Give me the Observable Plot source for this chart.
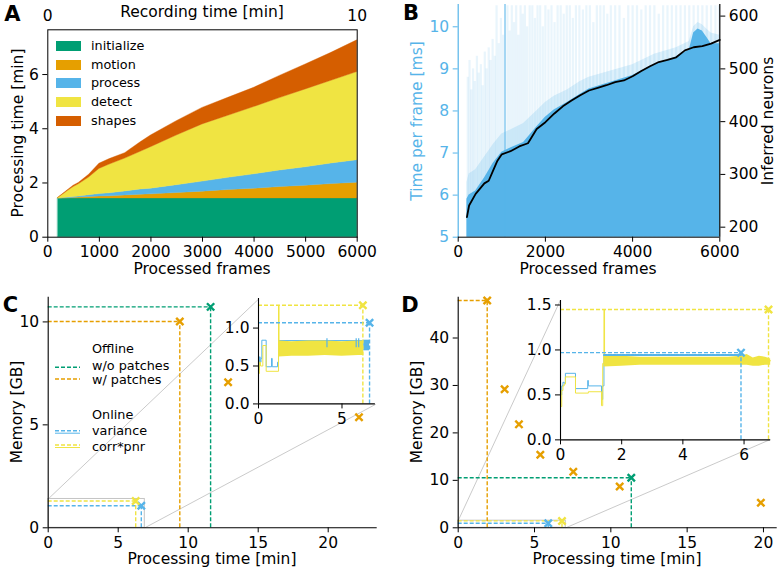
<!DOCTYPE html>
<html><head><meta charset="utf-8">
<script src="https://cdn.jsdelivr.net/npm/d3@7"></script>
<script src="https://cdn.jsdelivr.net/npm/@observablehq/plot@0.6"></script>
<style>
body{margin:0;background:#fff;}
#root{position:relative;width:780px;height:572px;overflow:hidden;font-family:"DejaVu Sans",sans-serif;background:#fff;}
#root svg{overflow:visible;}
</style></head><body><div id="root"></div>
<script>
// ---------------- DATA ----------------
// Panel A: stacked processing time per stage (minutes) vs processed frames
const framesA  = [200,300,400,500,600,800,1000,1200,1500,1800,2000,2500,3000,3500,4000,4500,5000,5500,6000];
const initA    = [1.43,1.43,1.43,1.43,1.43,1.43,1.43,1.43,1.43,1.43,1.43,1.43,1.43,1.43,1.43,1.43,1.43,1.43,1.43];
const motionA  = [0,0.005,0.01,0.02,0.03,0.05,0.07,0.08,0.11,0.14,0.15,0.20,0.25,0.31,0.36,0.42,0.47,0.53,0.58];
const processA = [0,0.01,0.02,0.03,0.04,0.07,0.09,0.11,0.15,0.19,0.21,0.29,0.37,0.45,0.53,0.61,0.68,0.76,0.83];
const detectA  = [0.02,0.135,0.26,0.37,0.45,0.65,0.93,1.06,1.21,1.39,1.53,1.83,2.11,2.29,2.48,2.67,2.87,3.05,3.25];
const shapesA  = [0,0.02,0.03,0.05,0.05,0.10,0.19,0.20,0.20,0.35,0.43,0.53,0.61,0.66,0.71,0.82,0.92,1.03,1.17];
const stagesA  = ["initialize","motion","process","detect","shapes"];
const xTicksA  = [0,1000,2000,3000,4000,5000,6000];
const yTicksA  = [0,2,4,6];
const recTicksA = [0,10];          // recording time [min] on top axis
const framesPerMinA = 600;

// Panel B: time per frame (ms) and inferred neurons
const timeFramesB = [200,250,400,500,600,800,1000,1200,1500,1800,2000,2200,2500,2800,3000,3500,4000,4500,5000,5300,5400,5500,5600,5700,5800,6000];
const timeTopB    = [5.9,6.0,6.1,6.25,6.4,6.75,7.02,7.12,7.25,7.62,7.85,8.02,8.2,8.4,8.52,8.68,8.84,9.1,9.28,9.45,9.85,9.95,9.9,9.75,9.6,9.6];
const hazeTopB    = [6.3,6.5,6.6,6.75,6.9,7.2,7.45,7.55,7.7,8.0,8.2,8.35,8.5,8.7,8.8,8.95,9.1,9.35,9.5,9.65,10.0,10.1,10.05,9.95,9.85,9.8];
const spikeFramesB = [220,260,300,340,380,430,470,520,560,610,650,700,740,790,840,880,930,980,1030,1130,1180,1230,1280,1330,1380,1430,1480,1530,1580,1640,1700,1760,1820,1880,1940,2000,2070,2140,2210,2280,2350,2420,2490,2560,2630,2700,2780,2860,2940,3020,3100,3180,3260,3340,3420,3500,3600,3700,3800,3900,4000,4100,4200,4300,4400,4500,4600,4700,4800,4900,5000,5100,5200,5300,5400,5500,5600,5700,5800,5900,5980];
const spikeTopsB = [8.8,9.2,8.5,9.0,8.7,9.3,8.9,9.1,8.6,9.4, 9.0,9.5,9.2,9.7,9.3,10.5,9.6,10.2,9.8,10.5, 9.9,10.5,10.1,10.5,9.8,10.5,10.3,10.5,10.0,10.5, 10.5,10.2,10.5,10.5,10.0,10.5,10.4,10.5,10.1,10.5, 10.5,10.3,10.5,10.5,10.2,10.5,10.5,10.4,10.5,10.5, 10.1,10.5,10.5,10.5,10.3,10.5,10.5,10.5,10.2,10.5, 10.5,10.5,10.4,10.5,10.5,10.5,10.3,10.5,10.5,10.5, 10.5,10.5,10.5,10.5,10.5,10.5,10.5,10.5,10.5,10.5,10.5];
const brightSpikeFrameB = [1085];
const brightSpikeTopB = [10.53];
const neuronFramesB = [200,250,400,500,600,700,800,900,1000,1200,1400,1600,1800,2000,2200,2400,2600,2800,3000,3200,3400,3600,3800,4000,4200,4400,4600,4800,5000,5200,5400,5600,5800,6000];
const neuronsB      = [219,241,263,273,283,288,307,326,338,344,353,359,386,399,415,429,440,450,459,464,469,475,478,486,496,505,513,517,522,535,541,543,548,555];
const xTicksB = [0,2000,4000,6000];
const yTicksB = [5,6,7,8,9,10];
const nTicksB = [200,300,400,500,600];

// Panel C: memory vs processing time
const offTimeC = [11.6, 9.4],  offMemC = [10.73, 10.02], offColC = ["green","orange"];
const extraTimeC = [12.85, 22.2], extraMemC = [7.07, 5.37];
const onTimeC = [6.65, 6.25], onMemC = [1.07, 1.3], onColC = ["blue","yellow"];
const boxC = [6.9, 1.4];                       // zoomed region [time, memory]
const insetC = {x0:15.05, x1:23.4, y0:6.0, y1:11.12}; // inset extent in main data units
const blueTC = [0,0.05,0.1,0.15,0.2,0.46,0.78,0.82,1.14,1.2,6.65];
const blueMC = [0.45,0.62,0.55,0.6,0.84,0.49,0.6,0.49,0.55,0.835,0.835];
const yelTC  = [0,0.05,0.12,0.26,0.46,1.2,1.23,6.3];
const yelMC  = [0.4,0.55,0.5,0.77,0.43,1.3,0.75,0.75];
const bandTC = [1.22,2,3,4,5,6,6.3];
const bandLoC = [0.62,0.63,0.63,0.64,0.63,0.64,0.64];
const bandHiC = [0.83,0.82,0.83,0.83,0.82,0.83,0.83];
const blueSpikeTC = [4.1,5.85,6.0];
const blueBlockC = [6.3, 6.65, 0.7, 0.84];

// Panel D
const offTimeD = [11.34, 1.9], offMemD = [10.55, 47.9], offColD = ["green","orange"];
const extraTimeD = [3.04,3.98,5.38,7.54,10.58,19.83], extraMemD = [29.2,21.8,15.4,11.8,8.7,5.27];
const onTimeD = [5.9, 6.8], onMemD = [0.97, 1.45], onColD = ["blue","yellow"];
const boxD = [7.05, 1.5];
const insetD = {x0:6.70, x1:20.47, y0:18.63, y1:48.0};
const blueTD = [0,0.04,0.08,0.12,0.16,0.49,0.89,0.91,1.34,1.38,1.42,5.9];
const blueMD = [0.5,0.6,0.64,0.63,0.74,0.57,0.66,0.6,0.45,0.6,0.945,0.945];
const yelTD  = [0,0.04,0.08,0.12,0.16,0.49,0.91,1.34,1.38,1.42,1.44,6.87];
const yelMD  = [0.37,0.55,0.6,0.62,0.70,0.52,0.535,0.38,0.85,1.45,0.88,0.88];
const bandTD = [1.42,2.0,2.6,3.5,4.5,5.5,5.9,6.1,6.3,6.5,6.7,6.87];
const bandLoD = [0.81,0.82,0.83,0.83,0.83,0.83,0.83,0.83,0.82,0.82,0.83,0.83];
const bandHiD = [0.93,0.93,0.92,0.92,0.92,0.92,0.93,0.95,0.91,0.93,0.92,0.90];

// ---------------- STYLE / HELPERS ----------------
const FONT = "'DejaVu Sans', sans-serif";
const COL = {green:"#009E73", orange:"#E69F00", blue:"#56B4E9", yellow:"#F0E442", red:"#D55E00"};
const colorsA = [COL.green, COL.orange, COL.blue, COL.yellow, COL.red];
const TICK = 15.5;
const root = document.getElementById("root");
const baseStyle = {fontFamily: FONT, fontSize: TICK + "px", background: "transparent", overflow: "visible", maxWidth: "none"};

function put(el, left, top) {
  el.style.position = "absolute"; el.style.left = left + "px"; el.style.top = top + "px";
  root.appendChild(el); return el;
}
function label(str, x, y, {size = TICK, rotate = false, color = "#000", weight = "normal", anchor = "middle"} = {}) {
  const d = document.createElement("div");
  d.textContent = str;
  Object.assign(d.style, {position: "absolute", left: x + "px", top: y + "px", fontSize: size + "px", lineHeight: "1",
    color, fontWeight: weight, whiteSpace: "nowrap", fontFamily: FONT});
  d.style.transform = `translate(${anchor === "start" ? "0" : "-50%"},-50%)` + (rotate ? " rotate(-90deg)" : "");
  root.appendChild(d); return d;
}
function getScale(plot, name, domain, range) {
  try { const s = plot.scale(name); if (s && typeof s.apply === "function") return v => s.apply(v); } catch (e) {}
  return d3.scaleLinear(domain, range);
}
const zip = (keys, ...arrs) => arrs[0].map((_, i) => Object.fromEntries(keys.map((k, j) => [k, arrs[j][i]])));
const axX = (ticks, fmt) => Plot.axisX({ticks, tickFormat: fmt, tickSize: 5, tickPadding: 4, label: null, strokeWidth: 1});
const axY = (ticks, fmt, extra = {}) => Plot.axisY({ticks, tickFormat: fmt, tickSize: 5, tickPadding: 4, label: null, strokeWidth: 1, ...extra});

// ---------------- PANEL A ----------------
const valuesA = [initA, motionA, processA, detectA, shapesA];
const tableA = stagesA.flatMap((s, k) => framesA.map((f, i) => ({frame: f, stage: s, value: valuesA[k][i]})));
const plotA = Plot.plot({
  width: 380, height: 285, marginLeft: 47.3, marginRight: 23.3, marginTop: 29.3, marginBottom: 48.3,
  style: baseStyle,
  x: {domain: [0, 6000]}, y: {domain: [0, 7.65]},
  color: {domain: stagesA, range: colorsA},
  marks: [
    Plot.areaY(tableA, {x: "frame", y: "value", fill: "stage", stroke: "stage", strokeWidth: 0.4}),
    Plot.frame({stroke: "#000", strokeWidth: 1}),
    axX(xTicksA, "d"),
    Plot.axisX({anchor: "top", ticks: recTicksA.map(r => r * framesPerMinA), tickFormat: d => String(d / framesPerMinA), tickSize: 0, tickPadding: 9, label: null}),
    axY(yTicksA, "d")
  ]
});
put(plotA, 0, 0);
label("Recording time [min]", 202, 13);
label("Processing time [min]", 18.5, 133, {rotate: true});
label("Processed frames", 202, 270);
const legRowsA = [45.7, 64.5, 83.3, 102, 121];
stagesA.forEach((s, i) => {
  const sw = document.createElement("div");
  Object.assign(sw.style, {position: "absolute", left: "56px", top: (legRowsA[i] - 5) + "px", width: "25px", height: "10px", background: colorsA[i]});
  root.appendChild(sw);
  label(s, 91, legRowsA[i], {size: 12.8, anchor: "start"});
});

// ---------------- PANEL B ----------------
const geomB = {width: 390, height: 285, marginLeft: 67.7, marginRight: 60.7, marginTop: 4, marginBottom: 48.3};
const plotB1 = Plot.plot({
  ...geomB, style: baseStyle,
  x: {domain: [0, 6000]}, y: {domain: [5, 10.53]},
  marks: [
    Plot.ruleX(zip(["f", "top"], spikeFramesB, spikeTopsB), {x: "f", y1: 5, y2: "top", stroke: COL.blue, strokeOpacity: 0.13, strokeWidth: 2.2}),
    Plot.areaY(zip(["f", "v"], timeFramesB, hazeTopB), {x: "f", y1: 5, y2: "v", fill: COL.blue, fillOpacity: 0.2}),
    Plot.areaY(zip(["f", "v"], timeFramesB, timeTopB), {x: "f", y1: 5, y2: "v", fill: COL.blue}),
    Plot.rect(zip(["f", "top"], brightSpikeFrameB, brightSpikeTopB), {x1: d => d.f - 12, x2: d => d.f + 12, y1: 5, y2: "top", fill: COL.blue}),
    Plot.ruleX([0], {stroke: COL.blue, strokeWidth: 1.2}),
    Plot.ruleY([5], {stroke: "#000", strokeWidth: 1}),
    axX(xTicksB, "d"),
    axY(yTicksB, "d", {color: COL.blue})
  ]
});
put(plotB1, 390, 0);
const plotB2 = Plot.plot({
  ...geomB, style: baseStyle,
  x: {domain: [0, 6000], axis: null}, y: {domain: [181, 622]},
  marks: [
    Plot.line(zip(["f", "n"], neuronFramesB, neuronsB), {x: "f", y: "n", stroke: "#000", strokeWidth: 1.8}),
    Plot.ruleX([6000], {stroke: "#000", strokeWidth: 1.2}),
    Plot.axisY({anchor: "right", ticks: nTicksB, tickFormat: "d", tickSize: 5, tickPadding: 4, label: null})
  ]
});
put(plotB2, 390, 0);
label("Time per frame [ms]", 417.5, 121, {rotate: true, color: COL.blue});
label("Inferred neurons", 768.5, 121, {rotate: true});
label("Processed frames", 588, 270);

// ---------------- PANELS C & D ----------------
function memoryPanel({left, marginLeft, marginRight, xDomain, yDomain, xTicks, yTicks,
                      offT, offM, offC, exT, exM, onT, onM, onC, box, inset}) {
  const geom = {width: 390, height: 287, marginLeft, marginRight, marginTop: 11.7, marginBottom: 44.7};
  const lined = [...zip(["t", "m", "c"], offT, offM, offC), ...zip(["t", "m", "c"], onT, onM, onC)].map(d => ({...d, c: COL[d.c]}));
  const extra = zip(["t", "m"], exT, exM).map(d => ({...d, c: COL.orange}));
  const links = [{x1: 0, y1: box[1], x2: inset.x0, y2: inset.y1}, {x1: box[0], y1: 0, x2: inset.x1, y2: inset.y0}];
  const plot = Plot.plot({
    ...geom, style: baseStyle,
    x: {domain: xDomain}, y: {domain: yDomain}, color: {type: "identity"},
    marks: [
      Plot.rect([box], {x1: 0, x2: d => d[0], y1: 0, y2: d => d[1], fill: "none", stroke: "#c4c4c4", strokeWidth: 1}),
      Plot.link(links, {x1: "x1", y1: "y1", x2: "x2", y2: "y2", stroke: "#c4c4c4", strokeWidth: 0.9}),
      Plot.ruleY(lined, {y: "m", x1: 0, x2: "t", stroke: "c", strokeWidth: 1.4, strokeDasharray: "4,2"}),
      Plot.ruleX(lined, {x: "t", y1: 0, y2: "m", stroke: "c", strokeWidth: 1.4, strokeDasharray: "4,2"}),
      Plot.dot([...extra, ...lined], {x: "t", y: "m", symbol: "times", r: 3.4, stroke: "c", strokeWidth: 2.4}),
      Plot.ruleX([xDomain[0]], {stroke: "#000", strokeWidth: 1.1}),
      Plot.ruleY([yDomain[0]], {stroke: "#000", strokeWidth: 1.1}),
      axX(xTicks, "d"),
      axY(yTicks, "d")
    ]
  });
  put(plot, left, 285);
  const sx = getScale(plot, "x", xDomain, [marginLeft, 390 - marginRight]);
  const sy = getScale(plot, "y", yDomain, [287 - 44.7, 11.7]);
  return {L: left + sx(inset.x0), R: left + sx(inset.x1), T: 285 + sy(inset.y1), B: 285 + sy(inset.y0)};
}

function insetPanel(pos, {xDomain, yDomain, xTicks, yTicks, blueT, blueM, yelT, yelM, bandT, bandLo, bandHi, onT, onM, onC, extraMarks = []}) {
  const mL = 42, mR = 4, mT = 4, mB = 26;
  const lined = zip(["t", "m", "c"], onT, onM, onC).map(d => ({...d, c: COL[d.c]}));
  const plot = Plot.plot({
    width: pos.R - pos.L + mL + mR, height: pos.B - pos.T + mT + mB,
    marginLeft: mL, marginRight: mR, marginTop: mT, marginBottom: mB,
    style: baseStyle, x: {domain: xDomain}, y: {domain: yDomain}, color: {type: "identity"},
    marks: [
      Plot.frame({fill: "white", stroke: "none"}),
      Plot.line(zip(["t", "m"], blueT, blueM), {x: "t", y: "m", curve: "step-after", stroke: COL.blue, strokeWidth: 1}),
      Plot.areaY(zip(["t", "lo", "hi"], bandT, bandLo, bandHi), {x: "t", y1: "lo", y2: "hi", fill: COL.yellow}),
      Plot.line(zip(["t", "m"], yelT, yelM), {x: "t", y: "m", curve: "step-after", stroke: COL.yellow, strokeWidth: 1}),
      ...extraMarks,
      Plot.ruleY(lined, {y: "m", x1: 0, x2: "t", stroke: "c", strokeWidth: 1.4, strokeDasharray: "4,2"}),
      Plot.ruleX(lined, {x: "t", y1: 0, y2: "m", stroke: "c", strokeWidth: 1.4, strokeDasharray: "4,2"}),
      Plot.dot(lined, {x: "t", y: "m", symbol: "times", r: 3.4, stroke: "c", strokeWidth: 2.4}),
      Plot.ruleX([xDomain[0]], {stroke: "#000", strokeWidth: 1.1}),
      Plot.ruleY([yDomain[0]], {stroke: "#000", strokeWidth: 1.1}),
      axX(xTicks, "d"),
      axY(yTicks, ".1f")
    ]
  });
  put(plot, pos.L - mL, pos.T - mT);
}

// Panel C
const posC = memoryPanel({left: 0, marginLeft: 47.7, marginRight: 13.3, xDomain: [0, 23.5], yDomain: [0, 11.2],
  xTicks: [0, 5, 10, 15, 20], yTicks: [0, 5, 10],
  offT: offTimeC, offM: offMemC, offC: offColC, exT: extraTimeC, exM: extraMemC,
  onT: onTimeC, onM: onMemC, onC: onColC, box: boxC, inset: insetC});
label("Memory [GB]", 17.5, 412, {rotate: true});
label("Processing time [min]", 212, 560);

// legend C (drawn with d3)
const legSvg = d3.create("svg").attr("width", 780).attr("height", 572)
  .style("position", "absolute").style("left", "0px").style("top", "0px").style("pointer-events", "none");
const legItemsC = [
  {y: 367.3, c: COL.green, solid: false},
  {y: 379, c: COL.orange, solid: false},
  {y: 430.7, c: COL.blue, solid: true},
  {y: 445, c: COL.yellow, solid: true}
];
legItemsC.forEach(it => {
  legSvg.append("line").attr("x1", 55).attr("x2", 80).attr("y1", it.y).attr("y2", it.y)
    .attr("stroke", it.c).attr("stroke-width", 1.4).attr("stroke-dasharray", "4,2");
  if (it.solid) legSvg.append("line").attr("x1", 55).attr("x2", 80).attr("y1", it.y + 2.5).attr("y2", it.y + 2.5)
    .attr("stroke", it.c).attr("stroke-width", 1);
});
root.appendChild(legSvg.node());
[["Offline", 348.7], ["w/o patches", 365.5], ["w/ patches", 379.8], ["Online", 414.5], ["variance", 431], ["corr*pnr", 446.5]]
  .forEach(([s, y]) => label(s, 92, y, {size: 12.8, anchor: "start"}));

insetPanel(posC, {xDomain: [0, 7], yDomain: [0, 1.39], xTicks: [0, 5], yTicks: [0, 0.5, 1.0],
  blueT: blueTC, blueM: blueMC, yelT: yelTC, yelM: yelMC, bandT: bandTC, bandLo: bandLoC, bandHi: bandHiC,
  onT: onTimeC, onM: onMemC, onC: onColC,
  extraMarks: [
    Plot.ruleX(blueSpikeTC, {x: d => d, y1: 0.74, y2: 0.86, stroke: COL.blue, strokeWidth: 1.2}),
    Plot.rect([blueBlockC], {x1: d => d[0], x2: d => d[1], y1: d => d[2], y2: d => d[3], fill: COL.blue})
  ]});

// Panel D
const posD = memoryPanel({left: 390, marginLeft: 67.7, marginRight: 3.3, xDomain: [0, 20.9], yDomain: [0, 48.6],
  xTicks: [0, 5, 10, 15, 20], yTicks: [0, 10, 20, 30, 40],
  offT: offTimeD, offM: offMemD, offC: offColD, exT: extraTimeD, exM: extraMemD,
  onT: onTimeD, onM: onMemD, onC: onColD, box: boxD, inset: insetD});
label("Memory [GB]", 418, 412, {rotate: true});
label("Processing time [min]", 617, 560);
insetPanel(posD, {xDomain: [0, 6.87], yDomain: [0, 1.55], xTicks: [0, 2, 4, 6], yTicks: [0, 0.5, 1.0, 1.5],
  blueT: blueTD, blueM: blueMD, yelT: yelTD, yelM: yelMD, bandT: bandTD, bandLo: bandLoD, bandHi: bandHiD,
  onT: onTimeD, onM: onMemD, onC: onColD,
  extraMarks: [
    Plot.line(zip(["t", "m"], blueTD.slice(-2), blueMD.slice(-2)), {x: "t", y: "m", stroke: COL.blue, strokeWidth: 2, strokeDasharray: "3,1.5"})
  ]});

// panel letters
label("A", 12.5, 14, {size: 21, weight: "bold"});
label("B", 411, 13, {size: 21, weight: "bold"});
label("C", 10.5, 305, {size: 21, weight: "bold"});
label("D", 410, 305, {size: 21, weight: "bold"});
</script></body></html>
